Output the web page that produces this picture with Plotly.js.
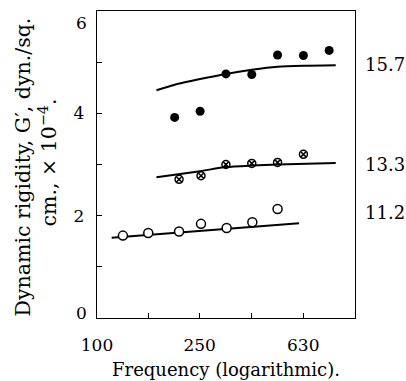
<!DOCTYPE html>
<html><head><meta charset="utf-8">
<script src="https://cdn.plot.ly/plotly-3.0.1.min.js"></script>
<style>html,body{margin:0;padding:0;background:#fff}</style>
</head><body>
<div id="chart" style="width:406px;height:381px"></div>
<script>
// Series 15.7 (filled circles)
const freqA = [200, 251, 316, 398, 501, 631, 794];
const valA  = [3.92, 4.04, 4.77, 4.76, 5.14, 5.13, 5.23];
const lineFreqA = [170, 200, 251, 316, 398, 501, 631, 842];
const lineValA  = [4.45, 4.56, 4.67, 4.77, 4.85, 4.91, 4.93, 4.94];
// Series 13.3 (crossed circles)
const freqB = [208, 253, 316, 398, 501, 631];
const valB  = [2.71, 2.78, 3.00, 3.02, 3.04, 3.20];
const lineFreqB = [170, 251, 316, 398, 501, 842];
const lineValB  = [2.75, 2.87, 2.95, 2.98, 3.00, 3.03];
// Series 11.2 (open circles)
const freqC = [126, 158, 208, 253, 318, 400, 501];
const valC  = [1.61, 1.66, 1.69, 1.84, 1.76, 1.87, 2.13];
const lineFreqC = [114, 607];
const lineValC  = [1.57, 1.85];
// Labels
const seriesLabels = ['15.7', '13.3', '11.2'];
const labelY = [4.95, 3.0, 2.06];
const xTickVals = [100, 158, 250, 398, 630];
const xTickText = ['100', '', '250', '', '630'];
const yTickVals = [0, 1, 2, 3, 4, 5, 6];
const yTickText = ['', '', '2', '', '4', '', ''];
const yEdgeLabels = ['0', '6'];
const yEdgeVals = [0, 6];

const F = 'DejaVu Serif, serif';
const lineStyle = {color: 'black', width: 2, shape: 'spline', smoothing: 0.6};
const traces = [
  {x: lineFreqA, y: lineValA, mode: 'lines', line: lineStyle, hoverinfo: 'skip'},
  {x: lineFreqB, y: lineValB, mode: 'lines', line: lineStyle, hoverinfo: 'skip'},
  {x: lineFreqC, y: lineValC, mode: 'lines', line: lineStyle, hoverinfo: 'skip'},
  {x: freqA, y: valA, mode: 'markers', marker: {symbol: 'circle', size: 9, color: 'black'}},
  {x: freqB, y: valB, mode: 'markers', marker: {symbol: 'circle-x-open', size: 8, color: 'black', line: {width: 1.5, color: 'black'}}},
  {x: freqC, y: valC, mode: 'markers', marker: {symbol: 'circle', size: 9, color: 'white', line: {width: 1.5, color: 'black'}}}
];
const annotations = seriesLabels.map((t, i) => ({
  text: t, xref: 'paper', yref: 'y', x: 1.03, y: labelY[i], xanchor: 'left', yanchor: 'middle',
  showarrow: false, font: {family: F, size: 18, color: 'black'}
}));
yEdgeLabels.forEach((t, i) => annotations.push({
  text: t, xref: 'paper', yref: 'y', x: 0, y: yEdgeVals[i], xanchor: 'right',
  yanchor: yEdgeVals[i] === 0 ? 'bottom' : 'top', xshift: -8, yshift: yEdgeVals[i] === 0 ? -7 : 0,
  showarrow: false, font: {family: F, size: 17, color: 'black'}
}));
annotations.push({text: 'Dynamic rigidity, G\u2032, dyn./sq.', xref: 'paper', yref: 'paper', x: 0, y: 0.5,
  xshift: -75, yshift: -3, textangle: -90, showarrow: false, xanchor: 'center', yanchor: 'middle',
  font: {family: F, size: 20.5, color: 'black'}});
annotations.push({text: 'cm., \u00d7 10<sup>\u22124</sup>.', xref: 'paper', yref: 'paper', x: 0, y: 0.5,
  xshift: -49, yshift: 2, textangle: -90, showarrow: false, xanchor: 'center', yanchor: 'middle',
  font: {family: F, size: 20.5, color: 'black'}});

const layout = {
  width: 406, height: 381,
  margin: {l: 97, r: 51, t: 11, b: 63},
  paper_bgcolor: 'white', plot_bgcolor: 'white',
  showlegend: false,
  font: {family: F, size: 17, color: 'black'},
  xaxis: {type: 'log', range: [2, 3], tickvals: xTickVals, ticktext: xTickText,
    ticks: 'inside', ticklen: 5, tickcolor: 'black', showgrid: false, zeroline: false,
    showline: true, linecolor: 'black', linewidth: 1.2, mirror: true,
    tickfont: {family: F, size: 17}, ticklabelstandoff: 11,
    title: {text: 'Frequency (logarithmic).', font: {family: F, size: 18}, standoff: 9}},
  yaxis: {range: [0, 6], tickvals: yTickVals, ticktext: yTickText,
    ticks: 'inside', ticklen: 5, tickcolor: 'black', showgrid: false, zeroline: false,
    showline: true, linecolor: 'black', linewidth: 1.2, mirror: true,
    tickfont: {family: F, size: 17}, ticklabelstandoff: 8},
  annotations: annotations
};
Plotly.newPlot('chart', traces, layout, {staticPlot: true});
</script>
</body></html>
